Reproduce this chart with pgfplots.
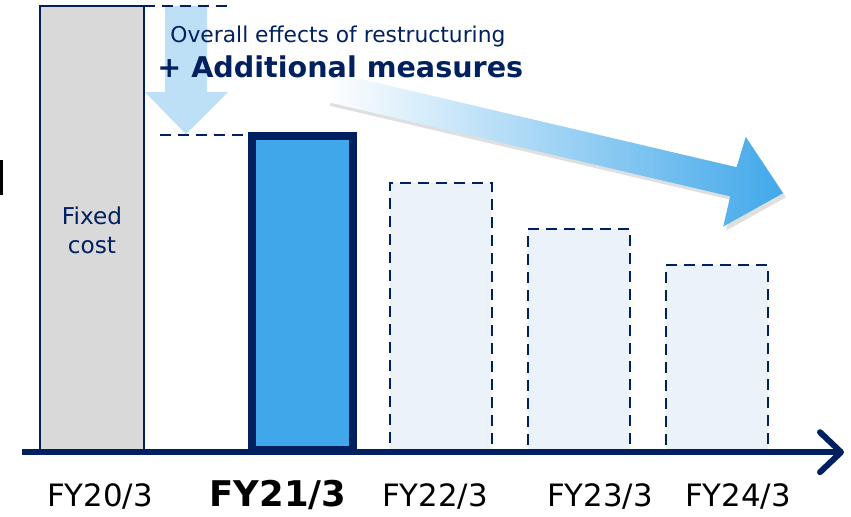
\documentclass[border=0pt]{standalone}
\usepackage{pgfplots}
\pgfplotsset{compat=1.18}
\usepackage{fontspec}
\setmainfont{DejaVu Sans}
\usetikzlibrary{shadows}

\definecolor{navy}{RGB}{0,32,96}
\definecolor{fixgray}{RGB}{217,217,217}
\definecolor{barblue}{RGB}{64,167,235}
\definecolor{planfill}{RGB}{236,242,250}
\definecolor{downblue}{RGB}{189,224,247}
\definecolor{arrowblue}{RGB}{65,168,234}

% bar heights (pixel units above the base line)
\pgfplotstableread{
x   h
92  444
}\fixedbar
\pgfplotstableread{
x   h
302.5 314
}\actualbar
\pgfplotstableread{
x   h
441 267
579 221
717 185
}\planbars

\begin{document}
\begin{tikzpicture}
\begin{axis}[
    scale only axis, width=425.5pt, height=256.5pt,
    xmin=0, xmax=851, ymin=-63, ymax=450,
    enlargelimits=false, clip=false,
    axis line style={draw=none}, major tick length=0pt,
    ytick=\empty,
    xtick={100,278,435,600,738},
    xticklabels={FY20/3,{\fontsize{17.7}{20}\selectfont\bfseries FY21/3},FY22/3,FY23/3,FY24/3},
    xticklabel style={anchor=base, yshift=3.5pt, font=\fontsize{15.4}{18}\selectfont, text=black},
    ybar, bar shift=0pt,
]
% downward light arrow
\fill[downblue] (axis cs:165,444) -- (axis cs:207,444) -- (axis cs:207,358) -- (axis cs:228,358)
   -- (axis cs:186,316) -- (axis cs:145,358) -- (axis cs:165,358) -- cycle;
% gradient trend arrow
\shade[left color=white, right color=arrowblue, drop shadow={shadow xshift=1.5pt, shadow yshift=-2pt, opacity=0.25}]
   (axis cs:333.2,377.6) -- (axis cs:736.6,283) -- (axis cs:745.7,313.3) -- (axis cs:783,257)
   -- (axis cs:723.2,223.6) -- (axis cs:730.2,253.8) -- (axis cs:326.8,348.4) -- cycle;

\addplot[fill=fixgray, draw=navy, line width=1pt, bar width=104] table[x=x,y=h] {\fixedbar};
\addplot[fill=barblue, draw=navy, line width=4pt, bar width=101] table[x=x,y=h] {\actualbar};
\addplot[fill=planfill, draw=navy, line width=1.2pt, dash pattern=on 5.5pt off 3.5pt, bar width=102] table[x=x,y=h] {\planbars};

% dashed guides
\draw[navy, line width=1.2pt, dash pattern=on 5.5pt off 3.5pt] (axis cs:144,444) -- (axis cs:228,444);
\draw[navy, line width=1.2pt, dash pattern=on 5.5pt off 3.5pt] (axis cs:160,315) -- (axis cs:248,315);

% base axis arrow
\draw[navy, line width=3pt] (axis cs:22,-2) -- (axis cs:838,-2);
\draw[navy, line width=3pt, line cap=round, line join=round] (axis cs:820,18) -- (axis cs:841,-2) -- (axis cs:820,-22);

% texts
\node[anchor=base west, text=navy, font=\fontsize{10.9}{13}\selectfont, inner sep=0pt] at (axis cs:170,408) {Overall effects of restructuring};
\node[anchor=base west, text=navy, font=\fontsize{14.3}{17}\selectfont\bfseries, inner sep=0pt] at (axis cs:157,373) {+ Additional measures};
\node[align=center, text=navy, font=\fontsize{11.6}{14.5}\selectfont, inner sep=0pt] at (axis cs:92,220) {Fixed\\cost};
\fill[black] (axis cs:0,290) rectangle (axis cs:3,255);
\end{axis}
\end{tikzpicture}
\end{document}
